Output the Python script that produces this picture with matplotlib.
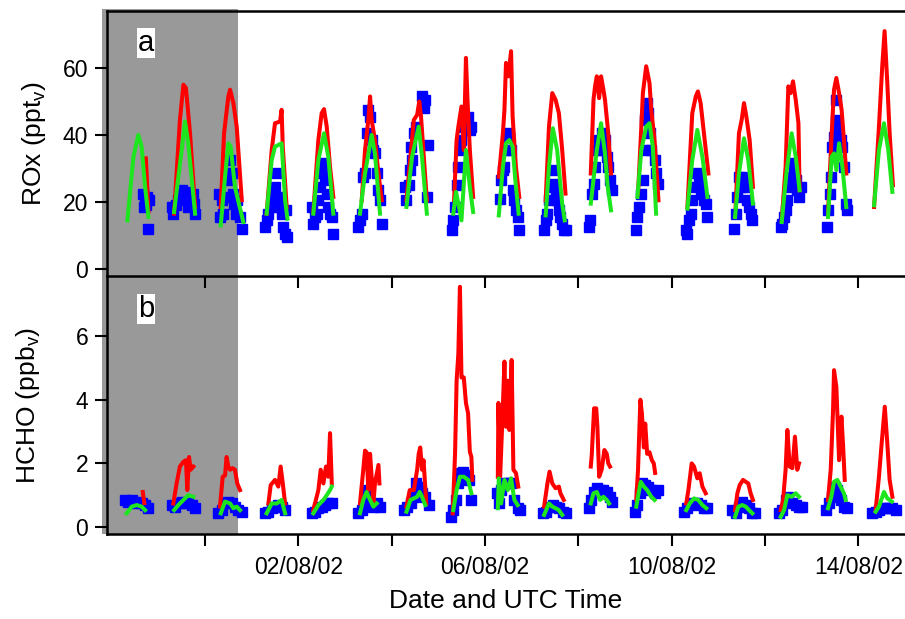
import numpy as np
import matplotlib
matplotlib.use("Agg")
import matplotlib.pyplot as plt
import matplotlib.dates as mdates
from matplotlib.patches import Rectangle

plt.rcParams['font.family'] = ['Liberation Sans', 'DejaVu Sans']
plt.rcParams['mathtext.fontset'] = 'custom'
plt.rcParams['mathtext.rm'] = 'Liberation Sans'
plt.rcParams['mathtext.it'] = 'Liberation Sans:italic'

# ---------------- data ----------------
days = ['2002-07-29', '2002-07-30', '2002-07-31', '2002-08-01', '2002-08-02',
        '2002-08-03', '2002-08-04', '2002-08-05', '2002-08-06', '2002-08-07',
        '2002-08-08', '2002-08-09', '2002-08-10', '2002-08-11', '2002-08-12',
        '2002-08-13', '2002-08-14']

tick_dates = ['2002-07-31', '2002-08-02', '2002-08-04', '2002-08-06',
              '2002-08-08', '2002-08-10', '2002-08-12', '2002-08-14']
tick_labels = ['', '02/08/02', '', '06/08/02', '', '10/08/02', '', '14/08/02']
x_start = '2002-07-28 21:36'
x_end = '2002-08-15 00:00'
shade_end = '2002-07-31 17:00'

# ROx model (red), hours UTC per day and values (pptv)
rox_red_h = [
    [17.6, 18.9],
    [8.1, 11.1, 12.9, 14.2, 16.3, 18.9],
    [8.1, 9.8, 12.0, 12.9, 14.6, 16.3, 18.9],
    [7.7, 10.3, 12.0, 14.6, 15.4, 16.0, 18.0],
    [7.7, 10.3, 12.0, 13.2, 14.6, 16.3, 18.0],
    [8.6, 10.3, 12.0, 12.9, 13.7, 15.4, 17.2, 18.9],
    [7.6, 11.4, 13.1, 14.2, 15.1, 16.4, 18.1],
    [8.1, 9.4, 10.3, 11.9, 13.1, 14.2, 15.0, 16.2, 17.9],
    [7.1, 9.2, 10.0, 10.8, 12.0, 13.4, 14.2, 15.9, 17.6],
    [7.2, 8.9, 10.6, 12.3, 14.0, 15.7, 17.4],
    [6.4, 7.8, 8.6, 9.5, 10.7, 11.7, 12.9, 13.7, 15.4, 16.8],
    [6.7, 8.4, 9.2, 10.9, 12.6, 13.5, 15.2, 17.2],
    [8.1, 10.6, 12.4, 13.5, 14.9, 16.6, 18.9],
    [8.9, 10.6, 12.0, 13.2, 14.4, 16.1, 17.8],
    [8.6, 10.6, 12.0, 13.2, 14.4, 15.8, 17.2, 17.8],
    [8.4, 10.3, 11.5, 12.7, 14.1, 15.4, 16.6, 17.8],
    [8.1, 10.6, 12.3, 13.5, 14.9, 16.1, 17.8],
]
rox_red = [
    [33, 17],
    [16.5, 44.5, 55, 54, 40.5, 18.5],
    [18.5, 40.5, 51.5, 53.5, 49.5, 42.5, 20.5],
    [16.5, 35.5, 43.5, 44, 47.5, 36.5, 18.5],
    [17, 38.5, 46.5, 47.7, 42.5, 30.5, 21.5],
    [20.5, 35.5, 44.5, 51.5, 44.5, 38.5, 28.5, 20.5],
    [20.5, 44.5, 46, 50, 45.5, 34.5, 20.5],
    [20.5, 38.5, 42.5, 48.5, 35.5, 63, 50.5, 35.5, 21.5],
    [27.5, 40.5, 47.5, 61.5, 57.5, 65, 45.5, 30.5, 21.5],
    [20.5, 42.5, 52.5, 50.5, 46.5, 35.5, 22.5],
    [28.5, 50.5, 54.5, 57.5, 51, 57.5, 53.5, 50.5, 40.5, 28.5],
    [22.5, 42.5, 52.5, 60.5, 55.5, 47.5, 38.5, 20.5],
    [18.5, 46.5, 51.5, 53, 49.5, 40.5, 28.5],
    [18.5, 40.5, 44.5, 49.5, 45.5, 38.5, 24.5],
    [14.5, 30.5, 54.5, 52.5, 56, 50.5, 43.5, 23.5],
    [16.5, 40.5, 53.5, 57, 52.5, 47.5, 38.5, 28.5],
    [18.5, 42.5, 60.5, 71, 55.5, 40.5, 25],
]

# ROx model (green)
rox_green_h = [
    [8.1, 11.2, 13.7, 15.4, 17.2, 18.9],
    [8.1, 12.0, 13.7, 15.4, 18.9],
    [8.1, 10.3, 12.0, 13.2, 15.4, 19.7],
    [7.7, 10.3, 12.0, 15.4, 17.2, 18.4],
    [7.7, 10.3, 13.2, 15.4, 18.0],
    [7.7, 10.3, 13.7, 15.4, 18.0],
    [7.6, 10.5, 13.9, 15.6, 18.1],
    [7.7, 9.1, 10.3, 11.9, 14.2, 16.2, 17.9],
    [7.1, 9.2, 10.8, 12.5, 14.2, 15.6, 17.3],
    [7.2, 8.9, 10.9, 13.1, 15.7, 17.0],
    [6.4, 9.5, 11.7, 13.7, 15.1, 16.8],
    [6.4, 8.4, 10.9, 12.6, 14.3, 16.0],
    [8.1, 10.6, 13.2, 15.8, 18.4],
    [8.6, 10.6, 13.2, 15.4, 17.8],
    [8.6, 11.0, 13.7, 15.8, 17.8],
    [8.4, 10.3, 11.5, 12.7, 14.1, 15.8, 17.8],
    [8.1, 10.6, 13.2, 15.4, 17.5],
]
rox_green = [
    [14.5, 33.5, 40, 36.5, 24.5, 15.5],
    [17, 35.5, 44, 37.5, 16.5],
    [13, 27.5, 37.5, 36.5, 24.5, 14],
    [16.5, 32.5, 36.5, 37.5, 20.5, 15],
    [16.5, 32.5, 40.5, 33.5, 16.5],
    [16.5, 28.5, 40, 34.5, 16.5],
    [18.5, 33.5, 42.5, 33.5, 16.5],
    [16.5, 23, 19.5, 14.5, 35.5, 24.5, 17],
    [16, 30.5, 37.5, 38.5, 36.5, 26.5, 16.5],
    [16, 30.5, 42, 35.5, 19.5, 14.5],
    [19.5, 35.5, 43.5, 34.5, 24.5, 17.5],
    [21.5, 35.5, 42.5, 43.5, 36.5, 16.5],
    [18, 32.5, 41.5, 33.5, 21.5],
    [15.5, 28.5, 39, 32.5, 19.5],
    [14, 28.5, 40.5, 33.5, 23.5],
    [15.5, 33.5, 34.5, 29.5, 37.5, 30.5, 18.5],
    [19, 35.5, 43.5, 35.5, 23],
]

# ROx measured (blue squares)
rox_meas_h = [
    [16.1, 16.6, 17.2, 17.9, 18.4, 18.9, 19.4],
    [6.9, 7.7, 9.1, 10.3, 11.1, 12.0, 12.9, 13.7, 14.6, 15.4, 16.3, 17.7, 18.4, 18.9],
    [7.4, 7.7, 8.6, 9.4, 11.1, 12.0, 12.9, 13.7, 14.2, 14.9, 16.0, 16.6, 18.0, 18.9],
    [6.9, 7.7, 8.6, 10.3, 11.1, 12.0, 12.9, 13.7, 14.6, 15.4, 16.3, 17.2, 17.5, 18.0],
    [6.9, 7.7, 8.6, 9.4, 10.3, 11.1, 12.0, 12.9, 13.7, 14.6, 15.4, 16.3, 17.2, 18.0],
    [6.9, 7.7, 8.6, 9.4, 10.3, 11.1, 12.0, 12.9, 13.7, 14.6, 15.4, 16.3, 17.2, 18.0, 18.9],
    [7.1, 7.6, 8.8, 9.3, 10.0, 10.5, 11.4, 12.7, 15.6, 16.4, 17.3, 18.1, 18.5],
    [6.9, 7.4, 8.6, 9.4, 10.3, 11.1, 11.9, 12.8, 14.2, 15.3, 16.2, 17.0],
    [7.5, 8.3, 9.2, 10.0, 10.8, 11.7, 12.5, 13.4, 14.2, 15.1, 15.9, 16.8, 17.6],
    [6.4, 7.2, 8.1, 8.9, 9.7, 10.6, 11.4, 12.3, 13.1, 14.0, 14.8, 15.7, 16.5, 17.4],
    [5.3, 6.1, 6.9, 7.8, 8.6, 9.5, 10.7, 12.0, 12.9, 13.7, 14.6, 15.4, 16.3, 17.5],
    [5.8, 6.4, 7.0, 8.1, 9.2, 10.1, 10.4, 11.1, 11.8, 12.6, 13.5, 15.2, 16.0, 17.2],
    [7.2, 8.1, 8.9, 9.8, 10.6, 12.3, 13.2, 14.1, 14.9, 16.6, 17.5, 18.4],
    [8.1, 8.9, 9.8, 10.6, 11.5, 12.3, 13.2, 14.1, 14.9, 15.8, 16.6, 17.5],
    [8.1, 8.9, 9.8, 10.6, 11.5, 12.3, 13.2, 14.1, 14.9, 15.8, 16.6, 17.5, 18.4],
    [8.1, 8.6, 9.3, 9.8, 10.6, 11.5, 12.3, 12.7, 13.7, 14.9, 15.8, 16.6, 17.5, 18.4],
    [],
]
rox_meas = [
    [22.5, 18.5, 20.5, 19, 21.5, 12, 20.5],
    [18.5, 16.5, 19, 20.5, 22.5, 23.5, 21.5, 23, 20.5, 18.5, 21.5, 22.5, 19.5, 16.5],
    [22.5, 15.5, 20.5, 16.5, 21.5, 26.5, 32.5, 28.5, 22.5, 19.5, 16.5, 20.5, 15.5, 12],
    [12.5, 14.5, 16.5, 18.5, 21.5, 24.5, 28.5, 21.5, 18.5, 16.5, 12.5, 10.5, 17.5, 9.5],
    [18.5, 13.5, 15.5, 16.5, 20.5, 24.5, 28.5, 31.5, 26.5, 22.5, 18.5, 16.5, 15.5, 10.5],
    [12.5, 14.5, 16.5, 27.5, 28.5, 40.5, 47.5, 45.5, 38.5, 35.5, 34.5, 28.5, 23.5, 20.5, 13.5],
    [24.5, 20.5, 25, 29.5, 36.5, 32.5, 40.5, 42.5, 51.5, 48, 50.5, 21.5, 37],
    [11.5, 14.5, 18.5, 25, 30.5, 35.5, 38.5, 42.5, 44.5, 45.5, 41.5, 42.5],
    [21, 26.5, 29.5, 30.5, 35.5, 40.5, 39.5, 35.5, 23.5, 20.5, 17.5, 15.5, 11.5],
    [11.5, 14.5, 16.5, 20.5, 24.5, 29.5, 25.5, 22.5, 20.5, 17.5, 15.5, 13.5, 11.5, 11.5],
    [12.5, 14.5, 22.5, 25.5, 30.5, 35.5, 38.5, 40.5, 35.5, 38.5, 33.5, 30.5, 26.5, 23.5],
    [11.5, 15.5, 18.5, 22.5, 26.5, 35.5, 44.5, 49.5, 46.5, 40.5, 35.5, 32.5, 28.5, 25.5],
    [11.5, 10.5, 14.5, 16.5, 20.5, 24.5, 28.5, 25.5, 22.5, 20.5, 19.5, 15.5],
    [12, 16.5, 21.5, 27.5, 24.5, 27.5, 26.5, 24.5, 20.5, 18.5, 16.5, 14.5],
    [12.5, 13.5, 15.5, 17.5, 20.5, 24.5, 27.5, 31.5, 30.5, 26.5, 23.5, 21.5, 24.5],
    [12.5, 17.5, 22.5, 27.5, 36.5, 39.5, 44.5, 50.5, 41.5, 38.5, 36.5, 30.5, 19.5, 17.5],
    [],
]

# HCHO model (red), ppbv
hcho_red_h = [
    [16.0, 16.8],
    [7.7, 9.4, 11.1, 12.9, 14.2, 14.9, 15.8, 16.6, 18.0],
    [7.7, 9.1, 10.3, 11.1, 12.0, 12.9, 14.2, 15.4, 16.6, 18.0],
    [8.6, 9.8, 12.0, 13.7, 14.9, 16.0, 17.2],
    [7.7, 10.3, 11.5, 12.9, 14.2, 15.4, 16.3, 17.2],
    [7.7, 9.4, 10.3, 11.1, 12.0, 12.9, 13.7, 14.6, 15.4, 17.2, 17.7],
    [7.6, 9.3, 11.4, 13.1, 13.9, 14.7, 15.6, 16.4, 17.8],
    [7.4, 8.6, 9.4, 10.3, 11.1, 11.9, 13.1, 14.2, 15.3, 16.2, 17.0, 17.5],
    [6.6, 6.9, 7.8, 9.2, 10.0, 10.8, 11.7, 12.5, 13.7, 14.6, 15.9, 17.1],
    [6.4, 8.1, 9.2, 10.6, 12.3, 14.0, 14.8, 16.5],
    [6.4, 6.9, 8.1, 9.2, 9.8, 10.7, 12.0, 13.4, 14.6, 15.4, 16.3],
    [5.8, 6.7, 7.9, 8.7, 9.7, 10.4, 11.4, 12.6, 13.8, 14.8, 15.5],
    [7.5, 8.6, 10.3, 11.5, 13.2, 14.4, 15.8, 17.5],
    [8.6, 9.8, 11.0, 12.7, 14.1, 15.4, 16.6, 17.8],
    [8.1, 9.3, 10.6, 11.5, 12.7, 14.1, 15.4, 16.6, 17.5],
    [8.4, 9.8, 11.0, 11.5, 12.7, 14.1, 15.3, 16.1, 17.0],
    [8.9, 10.6, 12.0, 13.6, 14.9, 16.1, 17.5],
]
hcho_red = [
    [1.1, 0.75],
    [0.74, 1.37, 1.9, 2.05, 2.1, 1.16, 2.2, 1.8, 1.9],
    [0.64, 1.58, 1.62, 2.2, 1.9, 1.8, 1.85, 1.8, 1.37, 1.16],
    [0.74, 1.32, 1.48, 1.27, 1.9, 1.37, 0.74],
    [0.53, 1.16, 1.8, 1.37, 1.9, 1.58, 2.95, 1.37],
    [0.74, 1.8, 2.4, 2.35, 1.16, 2.3, 1.58, 0.74, 1.37, 1.95, 1.37],
    [0.64, 1.16, 1.16, 1.8, 2.3, 2.5, 1.8, 2.1, 0.74],
    [0.43, 2.3, 4.6, 5.45, 7.55, 4.7, 4.7, 3.9, 3.57, 2.37, 2.2, 1.48],
    [1.58, 3.9, 1.58, 3.8, 5.2, 3.15, 4.6, 3.05, 5.25, 1.8, 1.7, 1.27],
    [0.64, 1.37, 1.74, 1.37, 1.22, 1.27, 1.06, 0.85],
    [1.9, 2.26, 3.73, 3.73, 3.15, 1.58, 1.8, 2.42, 2.3, 2.0, 1.9],
    [0.85, 1.8, 4.0, 3.57, 2.5, 3.25, 2.3, 2.35, 2.1, 2.0, 1.7],
    [0.74, 1.16, 2.0, 1.9, 1.53, 1.69, 1.27, 1.06],
    [0.53, 1.06, 1.32, 1.48, 1.42, 1.37, 1.06, 0.85],
    [0.53, 0.85, 1.8, 3.05, 1.9, 1.85, 2.84, 1.8, 2.0],
    [0.85, 1.8, 3.68, 4.93, 4.4, 2.1, 3.47, 2.63, 1.48],
    [0.53, 1.58, 2.63, 3.78, 2.63, 1.48, 0.95],
]

# HCHO model (green)
hcho_green_h = [
    [7.7, 10.3, 12.9, 15.4, 17.2],
    [8.1, 10.3, 12.9, 15.4, 18.0],
    [8.1, 10.3, 12.9, 14.6, 16.3, 18.0],
    [7.7, 10.3, 12.9, 15.4, 17.2],
    [7.7, 10.3, 12.9, 14.6, 16.3, 17.2],
    [7.7, 9.4, 11.1, 12.9, 14.6, 16.3],
    [7.6, 9.7, 11.4, 13.1, 14.4, 15.6, 17.3],
    [7.7, 9.4, 11.1, 13.1, 15.3, 17.0],
    [6.6, 7.1, 8.3, 10.0, 11.7, 13.4, 15.1, 16.8],
    [6.4, 8.9, 10.6, 12.3, 14.0, 15.7],
    [6.4, 7.8, 9.5, 11.2, 12.9, 14.6, 15.8],
    [5.8, 7.0, 8.1, 9.7, 11.4, 13.5, 15.2],
    [7.5, 9.3, 11.5, 13.7, 15.8, 17.8],
    [8.6, 10.3, 12.3, 14.1, 15.8, 17.5],
    [8.1, 9.8, 11.5, 13.7, 15.8, 17.5],
    [8.4, 10.1, 11.5, 13.2, 14.9, 16.6, 17.5],
    [8.9, 10.6, 13.2, 14.9, 17.2],
]
hcho_green = [
    [0.43, 0.64, 0.69, 0.64, 0.53],
    [0.53, 0.69, 0.85, 1.0, 0.95],
    [0.43, 0.8, 0.74, 0.59, 0.64, 0.53],
    [0.43, 0.74, 0.74, 0.85, 0.43],
    [0.43, 0.69, 0.85, 1.0, 1.16, 1.27],
    [0.43, 0.85, 1.1, 0.85, 0.64, 0.74],
    [0.48, 0.85, 0.9, 0.95, 1.1, 0.95, 0.69],
    [0.53, 1.16, 1.58, 1.58, 1.48, 1.06],
    [0.59, 1.53, 0.74, 1.48, 1.16, 1.53, 0.85, 0.69],
    [0.38, 0.74, 0.64, 0.59, 0.53, 0.38],
    [0.74, 1.06, 1.1, 0.85, 0.95, 0.85, 0.74],
    [0.64, 1.06, 1.42, 1.27, 1.16, 0.95, 0.85],
    [0.53, 0.74, 0.9, 0.85, 0.69, 0.59],
    [0.32, 0.64, 0.69, 0.64, 0.53, 0.43],
    [0.32, 0.53, 1.0, 0.95, 1.06, 0.95],
    [0.59, 0.95, 1.42, 1.48, 1.27, 1.06, 0.85],
    [0.48, 0.64, 1.1, 0.9, 0.8],
]

# HCHO measured (blue squares)
hcho_meas_h = [
    [6.9, 8.6, 10.3, 12.0, 13.7, 15.4, 17.2, 18.9],
    [6.9, 8.6, 10.3, 12.0, 13.7, 15.4, 17.2, 18.9],
    [6.9, 8.6, 10.3, 12.0, 13.7, 15.4, 17.2, 18.9],
    [6.9, 8.6, 10.3, 12.0, 13.7, 15.4, 17.2],
    [6.9, 8.6, 10.3, 12.0, 13.7, 15.4, 17.2],
    [6.9, 8.6, 10.3, 11.1, 12.9, 14.6, 16.3, 18.0],
    [6.3, 8.0, 9.7, 11.4, 12.7, 13.9, 15.6, 17.3, 19.0],
    [6.5, 7.7, 9.1, 10.3, 11.4, 12.8, 14.5, 15.8, 17.0],
    [6.1, 7.1, 8.3, 10.0, 11.7, 13.4, 15.1, 16.8, 17.9],
    [5.8, 7.5, 9.2, 10.9, 12.6, 14.3, 16.0, 17.7],
    [5.3, 6.6, 7.8, 9.5, 11.2, 12.9, 14.6, 16.3, 17.5],
    [5.0, 6.4, 7.5, 8.7, 10.1, 11.8, 13.5, 15.2, 16.9],
    [6.3, 8.1, 9.8, 11.5, 13.2, 14.9, 16.6, 18.4],
    [7.2, 8.9, 10.6, 12.3, 14.1, 15.8, 17.5, 18.9],
    [7.2, 8.9, 10.6, 12.0, 13.7, 15.8, 17.5, 18.9],
    [7.2, 8.9, 10.6, 12.0, 13.2, 14.9, 16.6, 18.4],
    [7.2, 8.9, 10.6, 12.3, 14.1, 15.8, 17.5, 19.2],
]
hcho_meas = [
    [0.85, 0.8, 0.85, 0.74, 0.8, 0.74, 0.69, 0.59],
    [0.69, 0.64, 0.74, 0.8, 0.74, 0.74, 0.69, 0.59],
    [0.43, 0.53, 0.74, 0.8, 0.74, 0.64, 0.53, 0.48],
    [0.43, 0.48, 0.59, 0.64, 0.69, 0.64, 0.53],
    [0.43, 0.48, 0.59, 0.64, 0.69, 0.74, 0.74],
    [0.43, 0.53, 0.85, 1.16, 0.74, 0.64, 0.74, 0.64],
    [0.53, 0.64, 0.74, 0.95, 1.37, 1.27, 1.06, 0.95, 0.69],
    [0.32, 0.53, 0.85, 1.37, 1.69, 1.74, 1.64, 1.48, 0.85],
    [1.06, 0.74, 1.16, 1.37, 1.37, 1.37, 0.85, 0.59, 0.53],
    [0.43, 0.48, 0.64, 0.69, 0.64, 0.59, 0.48, 0.43],
    [0.59, 0.85, 1.1, 1.22, 1.16, 1.16, 1.1, 0.95, 0.8],
    [0.48, 0.69, 1.06, 1.37, 1.32, 1.27, 1.16, 1.06, 1.16],
    [0.48, 0.59, 0.69, 0.74, 0.74, 0.69, 0.59, 0.59],
    [0.53, 0.43, 0.64, 0.8, 0.69, 0.59, 0.43, 0.43],
    [0.43, 0.53, 0.85, 0.95, 0.74, 0.69, 0.64, 0.64],
    [0.53, 0.74, 0.95, 1.27, 1.16, 0.85, 0.64, 0.59],
    [0.43, 0.48, 0.53, 0.59, 0.59, 0.59, 0.59, 0.53],
]

# ---------------- figure ----------------
W, H = 905, 619
fig = plt.figure(figsize=(W / 100, H / 100), dpi=100)

left = 107 / W
width = (W - 107) / W
ax1 = fig.add_axes([left, 1 - 276 / H, width, (276 - 11) / H])
ax2 = fig.add_axes([left, 1 - 534 / H, width, (534 - 276) / H])

RED = '#ff0000'
GREEN = '#1ee61e'
BLUE = '#0000ff'
day0 = mdates.datestr2num(days)


def draw(ax, mh, mv, rh, rv, gh, gv):
    for i, d in enumerate(day0):
        if len(mh[i]):
            ax.plot(d + np.array(mh[i]) / 24.0, mv[i], linestyle='none',
                    marker='s', ms=6.8, color=BLUE, mec=BLUE, zorder=2)
    for i, d in enumerate(day0):
        ax.plot(d + np.array(rh[i]) / 24.0, rv[i], color=RED, lw=2.9, zorder=3)
    for i, d in enumerate(day0):
        ax.plot(d + np.array(gh[i]) / 24.0, gv[i], color=GREEN, lw=2.9, zorder=4)


draw(ax1, rox_meas_h, rox_meas, rox_red_h, rox_red, rox_green_h, rox_green)
draw(ax2, hcho_meas_h, hcho_meas, hcho_red_h, hcho_red, hcho_green_h, hcho_green)

xlim = mdates.datestr2num([x_start, x_end])
tick_pos = mdates.datestr2num(tick_dates)
for ax in (ax1, ax2):
    ax.set_facecolor('none')
    ax.set_xlim(xlim)
    ax.set_xticks(tick_pos)
    ax.spines['right'].set_visible(False)
    for s in ('left', 'bottom', 'top'):
        ax.spines[s].set_linewidth(1.8)
    ax.tick_params(axis='both', which='major', direction='out', length=8.5,
                   width=1.5, labelsize=16.5, pad=5, colors='black')
    ax.tick_params(axis='x', pad=7.5)
    ax.tick_params(right=False, top=False)

ax1.set_xticklabels([''] * len(tick_pos))
ax2.set_xticklabels(tick_labels)
ax2.spines['top'].set_visible(False)

ax1.set_ylim(-2.1, 77.0)
ax1.set_yticks([0, 20, 40, 60])
ax2.set_ylim(-0.22, 7.89)
ax2.set_yticks([0, 2, 4, 6])

ax1.set_ylabel('ROx (ppt$_{\\mathrm{v}}$)', fontsize=19)
ax2.set_ylabel('HCHO (ppb$_{\\mathrm{v}}$)', fontsize=19)
ax1.yaxis.set_label_coords(-0.074, 0.5)
ax2.yaxis.set_label_coords(-0.081, 0.5)
ax2.set_xlabel('Date and UTC Time', fontsize=19)
ax2.xaxis.set_label_coords(0.5, -0.215)

# panel letters
for ax, letter, yfrac in ((ax1, 'a', 1 - (43 - 11) / 265), (ax2, 'b', 1 - (309 - 276) / 258)):
    ax.text((146 - 107) / 798, yfrac, letter, transform=ax.transAxes,
            fontsize=21, ha='center', va='center', zorder=6,
            bbox=dict(facecolor='white', edgecolor='none', pad=0.5))

# grey shading of the first period
fig.canvas.draw()
inv = fig.transFigure.inverted()
x_sh = inv.transform(ax1.transData.transform((mdates.datestr2num(shade_end), 0)))[0]
x0 = left - 5 / W
y0 = 1 - 534 / H
y1 = 1 - 9 / H
fig.add_artist(Rectangle((x0, y0), x_sh - x0, y1 - y0, transform=fig.transFigure,
                         facecolor='#999999', edgecolor='none', zorder=-1))

fig.savefig('out.png', dpi=100)
